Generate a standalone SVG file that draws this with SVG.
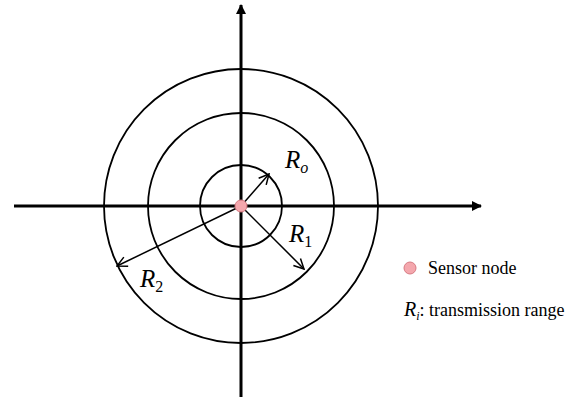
<svg xmlns="http://www.w3.org/2000/svg" width="584" height="400" viewBox="0 0 584 400">
<style>
.ring{fill:none;stroke:#000;stroke-width:1.8}
.axis{stroke:#000;stroke-width:3}
.ray{stroke:#000;stroke-width:1.5;fill:none}
text{font-family:"Liberation Serif","DejaVu Serif",serif;fill:#000}
.lbl{font-style:italic;font-size:25px}
.sub{font-style:normal;font-size:16px}
.subi{font-style:italic;font-size:16px}
.leg{font-size:18px}
.node{fill:#f4a7ad;stroke:#d77a82;stroke-width:1}
</style>
<defs>
<marker id="solid" viewBox="0 0 10 10" refX="9" refY="5" markerWidth="10" markerHeight="10" markerUnits="userSpaceOnUse" orient="auto">
<path d="M0,0 L10,5 L0,10 z" fill="#000"/>
</marker>
<marker id="open" viewBox="0 0 12 12" refX="11" refY="6" markerWidth="12" markerHeight="12" markerUnits="userSpaceOnUse" orient="auto">
<path d="M1,1 L11,6 L1,11" fill="none" stroke="#000" stroke-width="1.5"/>
</marker>
</defs>
<g id="rings">
<circle id="ring-o" class="ring" cx="241" cy="206" r="41"/>
<circle id="ring-1" class="ring" cx="241" cy="206" r="93"/>
<circle id="ring-2" class="ring" cx="241" cy="206" r="137"/>
</g>
<g id="connectors">
<line class="axis" x1="14" y1="206" x2="481" y2="206" marker-end="url(#solid)"/>
<line class="axis" x1="241" y1="397" x2="241" y2="5" marker-end="url(#solid)"/>
<line class="ray" x1="241" y1="206" x2="269" y2="174" marker-end="url(#open)"/>
<line class="ray" x1="241" y1="206" x2="304" y2="269" marker-end="url(#open)"/>
<line class="ray" x1="241" y1="206" x2="117" y2="266" marker-end="url(#open)"/>
</g>
<g id="sensor">
<circle class="node" cx="241" cy="206" r="6"/>
</g>
<g id="label-ro"><text class="lbl" x="285" y="168">R<tspan class="subi" dy="5">o</tspan></text></g>
<g id="label-r1"><text class="lbl" x="289" y="242">R<tspan class="sub" dy="5">1</tspan></text></g>
<g id="label-r2"><text class="lbl" x="140" y="287">R<tspan class="sub" dy="5">2</tspan></text></g>
<g id="legend">
<circle class="node" cx="410" cy="268" r="6"/>
<text class="leg" x="428" y="274">Sensor node</text>
<text class="leg" x="404" y="316"><tspan font-style="italic" font-size="20px">R</tspan><tspan font-style="italic" font-size="12px" dy="4">i</tspan><tspan dy="-4">: transmission range</tspan></text>
</g>
</svg>
